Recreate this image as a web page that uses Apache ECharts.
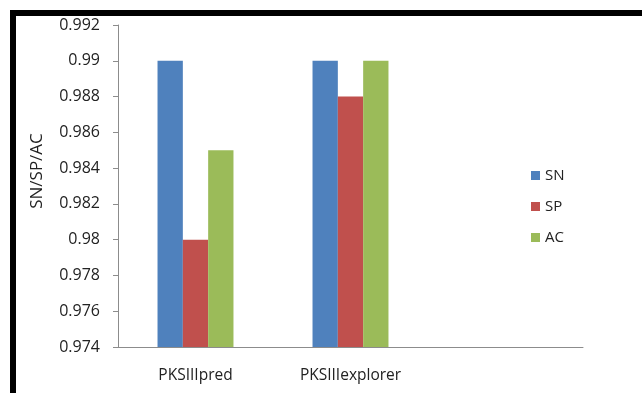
<!DOCTYPE html>
<html>
<head>
<meta charset="utf-8">
<script src="https://cdn.jsdelivr.net/npm/echarts@6/dist/echarts.min.js"></script>
<style>
  html, body { margin: 0; padding: 0; background: #fff; }
  #chart { width: 642px; height: 393px; }
</style>
</head>
<body>
<div id="chart"></div>
<script>
// Tool comparison: sensitivity, specificity and accuracy
const categories = ['PKSIIIpred', 'PKSIIIexplorer', ''];
const snValues = [0.99, 0.99, null];
const spValues = [0.98, 0.988, null];
const acValues = [0.985, 0.99, null];
const yMin = 0.974;
const yMax = 0.992;
const yStep = 0.002;

const FONT = '"Open Sans", "DejaVu Sans", sans-serif';

const chart = echarts.init(document.getElementById('chart'), null, { renderer: 'canvas' });

function barSeries(name, data, color) {
  return {
    name: name,
    type: 'bar',
    data: data,
    barGap: '0%',
    barCategoryGap: '51%',
    itemStyle: { color: color },
    animation: false
  };
}

chart.setOption({
  backgroundColor: '#ffffff',
  animation: false,
  grid: { left: 118, right: 59, top: 25, bottom: 46, containLabel: false },
  legend: {
    orient: 'vertical',
    left: 526,
    top: 161,
    itemWidth: 9,
    itemHeight: 9,
    itemGap: 12,
    icon: 'rect',
    textStyle: { fontFamily: FONT, fontSize: 15, lineHeight: 19, color: '#222' },
    data: ['SN', 'SP', 'AC']
  },
  xAxis: {
    type: 'category',
    data: categories,
    axisLine: { lineStyle: { color: '#8c8c8c', width: 1 } },
    axisTick: { show: false },
    axisLabel: {
      fontFamily: FONT, fontSize: 15.5, color: '#222', margin: 21
    },
    splitLine: { show: false }
  },
  yAxis: {
    type: 'value',
    min: yMin,
    max: yMax,
    interval: yStep,
    name: 'SN/SP/AC',
    nameLocation: 'middle',
    nameGap: 72,
    nameRotate: 90,
    nameTextStyle: { fontFamily: FONT, fontSize: 17, color: '#222', padding: [0, 0, 0, 30] },
    axisLine: { show: true, lineStyle: { color: '#8c8c8c', width: 1 } },
    axisTick: { show: true, inside: false, length: 5, lineStyle: { color: '#8c8c8c' } },
    axisLabel: {
      fontFamily: FONT, fontSize: 16, color: '#222', margin: 18,
      formatter: function (v) { return String(parseFloat(v.toFixed(3))); }
    },
    splitLine: { show: false }
  },
  series: [
    barSeries('SN', snValues, '#4f81bd'),
    barSeries('SP', spValues, '#c0504d'),
    barSeries('AC', acValues, '#9bbb59')
  ],
  graphic: [
    // heavy black frame along the top and left edges
    { type: 'rect', left: 10, top: 10, shape: { width: 632, height: 6 }, style: { fill: '#000' }, silent: true },
    { type: 'rect', left: 10, top: 10, shape: { width: 6, height: 383 }, style: { fill: '#000' }, silent: true }
  ]
});
</script>
</body>
</html>
